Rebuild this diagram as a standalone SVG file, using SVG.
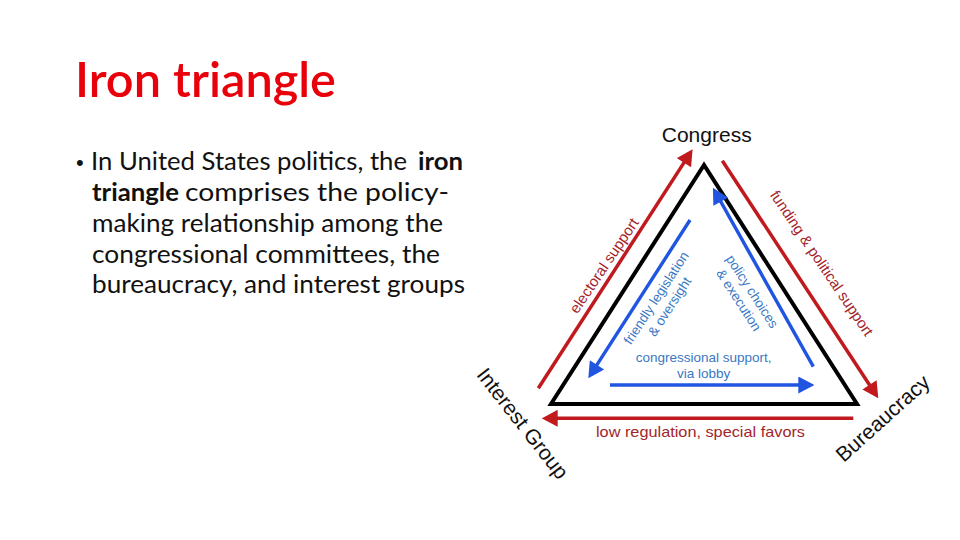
<svg xmlns="http://www.w3.org/2000/svg" width="960" height="540" viewBox="0 0 960 540">
<defs>
<style>
.title{font-family:Lato,"Open Sans",sans-serif;font-size:48px;font-weight:600;fill:#e8000b}
.body{font-family:Lato,"Open Sans",sans-serif;font-size:25px;fill:#111}
.b{font-weight:bold}
.node{font-family:"Liberation Sans",Arial,sans-serif;font-size:21px;fill:#111;text-anchor:middle}
.rl{font-family:"Liberation Sans",Arial,sans-serif;font-size:15px;fill:#a3252b;text-anchor:middle}
.bl{font-family:"Liberation Sans",Arial,sans-serif;font-size:13.5px;fill:#3a78c4;text-anchor:middle}
.red{stroke:#c01a1f;stroke-width:3.5;fill:none}
.blue{stroke:#1f55e0;stroke-width:3.4;fill:none}
</style>
<marker id="hr" markerUnits="userSpaceOnUse" markerWidth="17" markerHeight="17" viewBox="0 0 17 17" refX="5" refY="8.5" orient="auto">
<path d="M1,0 L17,8.5 L1,17 z" fill="#c01a1f"/>
</marker>
<marker id="hb" markerUnits="userSpaceOnUse" markerWidth="17" markerHeight="17" viewBox="0 0 17 17" refX="5" refY="8.5" orient="auto">
<path d="M1,0 L17,8.5 L1,17 z" fill="#1f55e0"/>
</marker>
</defs>
<rect width="960" height="540" fill="#fff"/>

<g id="slide-text">
<text class="title" x="75" y="97" textLength="261" lengthAdjust="spacingAndGlyphs">Iron triangle</text>
<text x="76" y="170" font-family="'Liberation Sans',Arial,sans-serif" font-size="22" fill="#111">•</text>
<text class="body" x="91" y="170" textLength="316" lengthAdjust="spacingAndGlyphs">In United States politics, the</text>
<text class="body b" x="418" y="170" textLength="45" lengthAdjust="spacingAndGlyphs">iron</text>
<text class="body b" x="92" y="201" textLength="87" lengthAdjust="spacingAndGlyphs">triangle</text>
<text class="body" x="185" y="201" textLength="264" lengthAdjust="spacingAndGlyphs">comprises the policy-</text>
<text class="body" x="92" y="232" textLength="351" lengthAdjust="spacingAndGlyphs">making relationship among the</text>
<text class="body" x="92" y="262.5" textLength="348" lengthAdjust="spacingAndGlyphs">congressional committees, the</text>
<text class="body" x="92" y="293" textLength="373" lengthAdjust="spacingAndGlyphs">bureaucracy, and interest groups</text>
</g>

<g id="connectors">
<polygon id="iron-triangle" points="704,165 551,404 857,404" fill="none" stroke="#000" stroke-width="4" stroke-linejoin="miter"/>
<line class="red" x1="538.3" y1="388.3" x2="686.1" y2="159.4" marker-end="url(#hr)"/>
<line class="red" x1="722.3" y1="160.7" x2="871.7" y2="388.3" marker-end="url(#hr)"/>
<line class="red" x1="853.3" y1="418.3" x2="553.7" y2="418.3" marker-end="url(#hr)"/>
<line class="blue" x1="690" y1="220" x2="594.8" y2="368.2" marker-end="url(#hb)"/>
<line class="blue" x1="813.3" y1="366.7" x2="718.8" y2="198.2" marker-end="url(#hb)"/>
<line class="blue" x1="610" y1="385" x2="802.3" y2="385" marker-end="url(#hb)"/>
<text class="rl" transform="translate(608.3,268.6) rotate(-56)">electoral support</text>
<text class="rl" transform="translate(817.5,266.1) rotate(56)">funding &amp; political support</text>
<text class="rl" x="700.5" y="437.3" textLength="209" lengthAdjust="spacingAndGlyphs">low regulation, special favors</text>
<text class="bl" transform="translate(660,300.5) rotate(-57)"><tspan x="0" y="0">friendly legislation</tspan><tspan x="0" y="16">&amp; oversight</tspan></text>
<text class="bl" transform="translate(748.3,293.9) rotate(57)"><tspan x="0" y="0">policy choices</tspan><tspan x="0" y="16">&amp; execution</tspan></text>
<text class="bl" x="703.7" y="362.3" font-size="14.5">congressional support,</text>
<text class="bl" x="703.7" y="377.5" font-size="14.5">via lobby</text>
</g>

<g id="congress"><text class="node" x="706.7" y="142">Congress</text></g>
<g id="interest-group"><text class="node" transform="translate(517,427.8) rotate(52)">Interest Group</text></g>
<g id="bureaucracy"><text class="node" transform="translate(887.5,423.6) rotate(-42)">Bureaucracy</text></g>
</svg>
